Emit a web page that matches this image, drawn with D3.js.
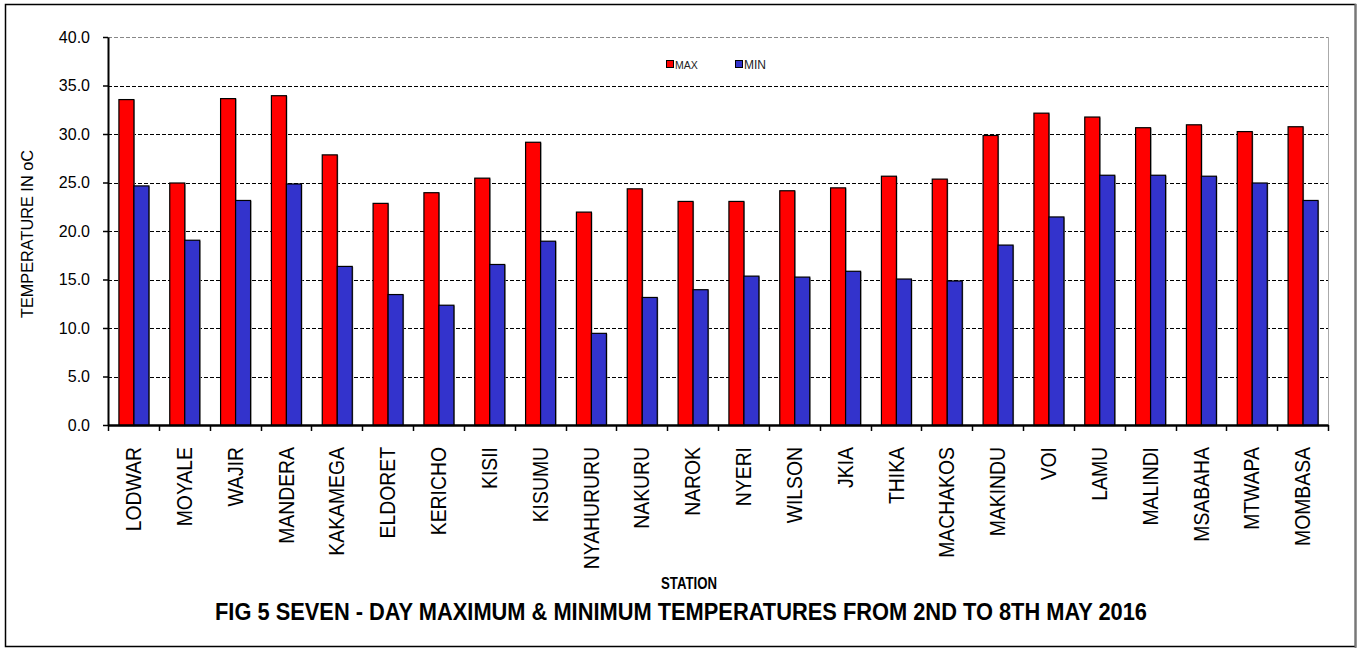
<!DOCTYPE html>
<html>
<head>
<meta charset="utf-8">
<script src="https://cdn.jsdelivr.net/npm/d3@7"></script>
<style>
  body { margin: 0; background: #fff; }
  svg { display: block; }
</style>
</head>
<body>
<svg id="chart" width="1359" height="648"></svg>
<script>
// station list and 7-day temperatures
const stations = ['LODWAR', 'MOYALE', 'WAJIR', 'MANDERA', 'KAKAMEGA', 'ELDORET', 'KERICHO', 'KISII',
    'KISUMU', 'NYAHURURU', 'NAKURU', 'NAROK', 'NYERI', 'WILSON', 'JKIA', 'THIKA', 'MACHAKOS',
    'MAKINDU', 'VOI', 'LAMU', 'MALINDI', 'MSABAHA', 'MTWAPA', 'MOMBASA'];
const maxTemp = [33.6, 25.0, 33.7, 34.0, 27.9, 22.9, 24.0, 25.5, 29.2, 22.0, 24.4, 23.1, 23.1, 24.2,
    24.5, 25.7, 25.4, 29.9, 32.2, 31.8, 30.7, 31.0, 30.3, 30.8];
const minTemp = [24.7, 19.1, 23.2, 24.9, 16.4, 13.5, 12.4, 16.6, 19.0, 9.5, 13.2, 14.0, 15.4, 15.3,
    15.9, 15.1, 14.9, 18.6, 21.5, 25.8, 25.8, 25.7, 25.0, 23.2];
const seriesNames = ['MAX', 'MIN'];
const yTicks = [0, 5, 10, 15, 20, 25, 30, 35, 40];

const svg = d3.select('svg#chart');
const plotLeft = 108, plotRight = 1328, plotTop = 37, plotBottom = 425;
const colors = { MAX: '#ff0000', MIN: '#3333cc' };
const sans = '"Liberation Sans", Arial, sans-serif';

// outer frame
svg.append('rect')
    .attr('x', 5.5).attr('y', 4.5).attr('width', 1350).attr('height', 642)
    .attr('fill', '#fff').attr('stroke', '#000').attr('stroke-width', 1.5);
svg.append('line')
    .attr('x1', 1355.5).attr('x2', 1355.5).attr('y1', 4).attr('y2', 648)
    .attr('stroke', '#777').attr('stroke-width', 2);

const x = d3.scaleBand().domain(stations).range([plotLeft, plotRight]).paddingInner(0).paddingOuter(0);
const barW = 15;
const groupOffset = (x.bandwidth() - 2 * barW) / 2;
const xs = d3.scaleBand().domain(seriesNames).range([groupOffset, groupOffset + 2 * barW]);
const y = d3.scaleLinear().domain([0, 40]).range([plotBottom, plotTop]);

// gridlines
yTicks.filter(t => t > 0).forEach(t => {
    svg.append('line')
        .attr('x1', plotLeft).attr('x2', plotRight)
        .attr('y1', Math.round(y(t)) + 0.5).attr('y2', Math.round(y(t)) + 0.5)
        .attr('stroke', t === 40 ? '#888' : '#000')
        .attr('stroke-width', t === 40 ? 1.2 : 1)
        .attr('stroke-dasharray', '4,2');
});
// right border of plot area
svg.append('line')
    .attr('x1', plotRight + 0.5).attr('x2', plotRight + 0.5).attr('y1', plotTop).attr('y2', plotBottom)
    .attr('stroke', '#aaa').attr('stroke-width', 1);

// bars
const rows = stations.map((s, i) => ({ station: s, MAX: maxTemp[i], MIN: minTemp[i] }));
const groups = svg.append('g').selectAll('g').data(rows).join('g')
    .attr('transform', d => `translate(${x(d.station)},0)`);
groups.selectAll('rect.shadow').data(d => seriesNames.map(k => ({ key: k, value: d[k] }))).join('rect')
    .attr('class', 'shadow')
    .attr('x', d => xs(d.key) + 1.5).attr('y', d => y(d.value) + 1)
    .attr('width', xs.bandwidth()).attr('height', d => plotBottom - y(d.value))
    .attr('fill', '#999');
groups.selectAll('rect.bar').data(d => seriesNames.map(k => ({ key: k, value: d[k] }))).join('rect')
    .attr('class', 'bar')
    .attr('x', d => xs(d.key) + 0.5).attr('y', d => y(d.value) + 0.5)
    .attr('width', xs.bandwidth()).attr('height', d => plotBottom - y(d.value))
    .attr('fill', d => colors[d.key]).attr('stroke', '#000').attr('stroke-width', 1.2);

// y axis
const yAxis = d3.axisLeft(y).tickValues(yTicks).tickFormat(d3.format('.1f')).tickSize(5).tickSizeOuter(0);
const gy = svg.append('g').attr('transform', `translate(${plotLeft},0)`).call(yAxis);
gy.select('.domain').attr('stroke', '#000').attr('stroke-width', 2);
gy.selectAll('.tick line').attr('stroke', '#000').attr('stroke-width', 1.5).attr('x2', 0).attr('x1', -5);
gy.selectAll('.tick text').attr('font-family', sans).attr('font-size', 16).attr('fill', '#000').attr('x', -18);

// x axis - labels condensed to mimic a narrow face
const xAxis = d3.axisBottom(x).tickSize(0).tickSizeOuter(0);
const gx = svg.append('g').attr('transform', `translate(0,${plotBottom})`).call(xAxis);
gx.select('.domain').attr('stroke', '#000').attr('stroke-width', 2.5);
gx.selectAll('.tick text')
    .attr('font-family', sans).attr('font-size', 22).attr('fill', '#000')
    .attr('transform', 'rotate(-90) scale(0.88,1)')
    .attr('text-anchor', 'end').attr('dy', '0.35em').attr('x', -25).attr('y', 0);
// category separator ticks
const sepTicks = stations.map(s => x(s)).concat([plotRight]);
svg.append('g').selectAll('line').data(sepTicks).join('line')
    .attr('x1', d => Math.round(d) + 0.5).attr('x2', d => Math.round(d) + 0.5)
    .attr('y1', plotBottom).attr('y2', plotBottom + 6)
    .attr('stroke', '#000').attr('stroke-width', 1.5);

// axis titles
svg.append('text')
    .attr('transform', `translate(33,${(plotTop + plotBottom) / 2 + 3}) rotate(-90)`)
    .attr('text-anchor', 'middle')
    .attr('font-family', sans).attr('font-size', 16).attr('fill', '#000')
    .attr('textLength', 168).attr('lengthAdjust', 'spacingAndGlyphs')
    .text('TEMPERATURE IN oC');
svg.append('text')
    .attr('x', 689).attr('y', 589).attr('text-anchor', 'middle')
    .attr('font-family', sans).attr('font-size', 17).attr('font-weight', 'bold')
    .attr('textLength', 56).attr('lengthAdjust', 'spacingAndGlyphs')
    .text('STATION');
svg.append('text')
    .attr('x', 681).attr('y', 620).attr('text-anchor', 'middle')
    .attr('font-family', sans).attr('font-size', 23).attr('font-weight', 'bold')
    .attr('textLength', 932).attr('lengthAdjust', 'spacingAndGlyphs')
    .text('FIG 5 SEVEN - DAY MAXIMUM & MINIMUM TEMPERATURES FROM  2ND TO 8TH MAY 2016');

// legend
const legend = svg.append('g');
seriesNames.forEach((k, i) => {
    const lx = 666 + i * 69;
    legend.append('rect')
        .attr('x', lx + 0.5).attr('y', 60.5).attr('width', 7).attr('height', 7)
        .attr('fill', colors[k]).attr('stroke', '#000').attr('stroke-width', 1);
    legend.append('text')
        .attr('x', lx + 9).attr('y', 69)
        .attr('font-family', sans).attr('font-size', i === 0 ? 10.5 : 12).attr('fill', '#222')
        .text(k);
});
</script>
</body>
</html>
